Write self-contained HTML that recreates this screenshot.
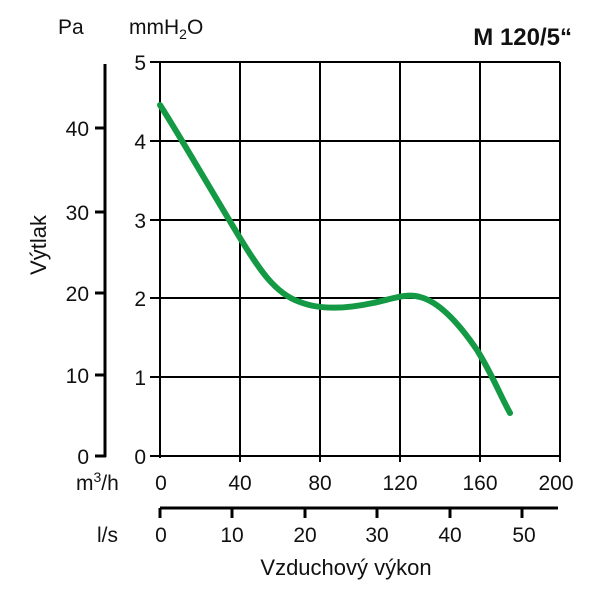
<!DOCTYPE html>
<html><head><meta charset="utf-8"><style>body{margin:0;background:#fff}svg{display:block}text{font-family:"Liberation Sans",sans-serif;fill:#111;font-size:21px}.s{font-size:14px}.b{font-size:22px}.t{font-size:24px;font-weight:bold}</style></head><body>
<svg width="600" height="600" viewBox="0 0 600 600" xmlns="http://www.w3.org/2000/svg">
<g stroke="#000" stroke-width="2">
<line x1="160" y1="62" x2="160" y2="458"/><line x1="240" y1="62" x2="240" y2="462"/><line x1="320" y1="62" x2="320" y2="462"/><line x1="400" y1="62" x2="400" y2="462"/><line x1="480" y1="62" x2="480" y2="462"/><line x1="560" y1="62" x2="560" y2="462"/>
<line x1="150" y1="62" x2="560" y2="62"/><line x1="150" y1="141" x2="560" y2="141"/><line x1="150" y1="220" x2="560" y2="220"/><line x1="150" y1="298" x2="560" y2="298"/><line x1="150" y1="377" x2="560" y2="377"/><line x1="150" y1="456" x2="560" y2="456"/>
</g>
<g stroke="#000" stroke-width="3">
<line x1="105" y1="64" x2="105" y2="457"/>
<line x1="95" y1="456" x2="106" y2="456"/><line x1="95" y1="375" x2="105" y2="375"/><line x1="95" y1="293" x2="105" y2="293"/><line x1="95" y1="212" x2="105" y2="212"/><line x1="95" y1="128" x2="105" y2="128"/>
<line x1="160" y1="508" x2="558" y2="508"/>
<line x1="160" y1="508" x2="160" y2="518"/><line x1="232" y1="508" x2="232" y2="518"/><line x1="305" y1="508" x2="305" y2="518"/><line x1="377" y1="508" x2="377" y2="518"/><line x1="450" y1="508" x2="450" y2="518"/><line x1="522" y1="508" x2="522" y2="518"/>
</g>
<path d="M160,105 C175,128 205,180 237,233 C258,268 275,294 300,302 C320,310 345,309 373,303 C395,298 408,293 420,297 C440,302 460,325 477,350 C492,374 500,395 510,413" fill="none" stroke="#149944" stroke-width="6" stroke-linecap="round"/>
<text x="58" y="34">Pa</text>
<text x="129" y="34">mmH<tspan class="s" dy="5">2</tspan><tspan dy="-5">O</tspan></text>
<text x="146" y="70" text-anchor="end">5</text><text x="146" y="149" text-anchor="end">4</text><text x="146" y="228" text-anchor="end">3</text><text x="146" y="306" text-anchor="end">2</text><text x="146" y="385" text-anchor="end">1</text><text x="146" y="464" text-anchor="end">0</text>
<text x="89" y="136" text-anchor="end">40</text><text x="89" y="220" text-anchor="end">30</text><text x="89" y="301" text-anchor="end">20</text><text x="89" y="383" text-anchor="end">10</text><text x="89" y="464" text-anchor="end">0</text>
<text x="161" y="490" text-anchor="middle">0</text><text x="240" y="490" text-anchor="middle">40</text><text x="320" y="490" text-anchor="middle">80</text><text x="400" y="490" text-anchor="middle">120</text><text x="480" y="490" text-anchor="middle">160</text><text x="556" y="490" text-anchor="middle">200</text>
<text x="76" y="490">m<tspan class="s" dy="-8">3</tspan><tspan dy="8">/h</tspan></text>
<text x="161" y="542" text-anchor="middle">0</text><text x="232" y="542" text-anchor="middle">10</text><text x="305" y="542" text-anchor="middle">20</text><text x="377" y="542" text-anchor="middle">30</text><text x="450" y="542" text-anchor="middle">40</text><text x="524" y="542" text-anchor="middle">50</text>
<text x="97" y="542">l/s</text>
<text class="b" x="346" y="575" text-anchor="middle">Vzduchový výkon</text>
<text class="b" x="46" y="245" text-anchor="middle" transform="rotate(-90 46 245)">Výtlak</text>
<text class="t" x="572" y="45" text-anchor="end">M 120/5“</text>
</svg>
</body></html>
